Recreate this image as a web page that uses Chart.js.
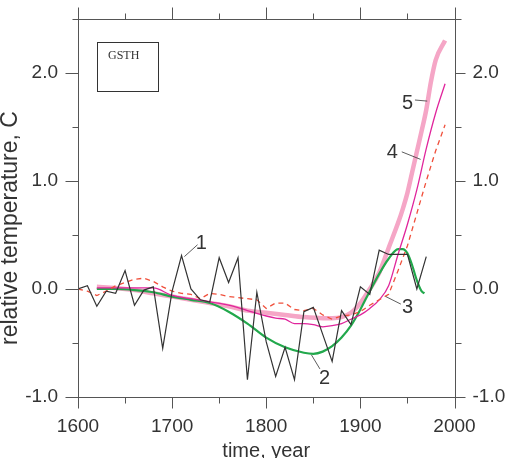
<!DOCTYPE html>
<html>
<head>
<meta charset="utf-8">
<script src="https://cdn.jsdelivr.net/npm/chart.js@4.4.1/dist/chart.umd.min.js"></script>
<style>
  html, body { margin: 0; padding: 0; background: #fff; }
  #wrap { width: 508px; height: 458px; }
</style>
</head>
<body>
<div id="wrap"><canvas id="grafica" width="508" height="458"></canvas></div>
<script>
/* ============ DATOS ============ */
// 1 - serie anual (negra)
const anos1 = [1600,1610,1620,1630,1640,1650,1660,1670,1680,1690,1700,1710,1720,1730,1740,1750,1760,1770,1780,1790,
               1800,1810,1820,1830,1840,1850,1860,1870,1880,1890,1900,1910,1920,1930,1940,1950,1960,1970];
const temp1 = [0.0,0.03,-0.16,-0.02,-0.04,0.17,-0.15,-0.01,0.02,-0.55,-0.02,0.31,0.0,-0.1,-0.12,0.29,0.06,0.29,-0.84,-0.03,
               -0.49,-0.81,-0.54,-0.84,-0.21,-0.17,-0.42,-0.67,-0.2,-0.33,0.02,-0.05,0.36,0.32,0.32,0.32,0.0,0.3];

// 2 - verde
const anos2 = [1620,1640,1660,1680,1700,1720,1740,1760,1780,1800,1820,1840,1850,1860,1870,1880,1890,1900,1910,1920,1930,1940,1945,1950,1955,1960,1965,1968];
const temp2 = [0.0,0.0,-0.01,-0.03,-0.07,-0.1,-0.13,-0.21,-0.32,-0.45,-0.54,-0.59,-0.6,-0.58,-0.53,-0.45,-0.34,-0.19,-0.02,0.14,0.28,0.37,0.37,0.33,0.22,0.08,-0.02,-0.04];

// 3 - roja discontinua
const anos3 = [1600,1610,1620,1630,1640,1650,1660,1670,1680,1690,1700,1710,1720,1730,1740,1750,1760,1770,1780,1790,
               1800,1810,1820,1830,1840,1850,1860,1870,1880,1890,1900,1910,1920,1930,1940,1950,1960,1970,1980,1990];
const temp3 = [0.0,-0.02,-0.06,-0.02,0.03,0.06,0.09,0.1,0.07,0.02,-0.02,-0.04,-0.05,-0.09,-0.04,-0.05,-0.07,-0.08,-0.09,-0.1,
               -0.18,-0.13,-0.13,-0.19,-0.2,-0.18,-0.24,-0.28,-0.25,-0.24,-0.21,-0.15,-0.1,-0.05,0.17,0.4,0.7,1.0,1.28,1.52];

// 4 - magenta
const anos4 = [1620,1640,1660,1680,1700,1720,1740,1760,1780,1800,1810,1820,1830,1840,1850,1860,1870,1880,1890,1900,1910,1920,1930,1940,1950,1960,1970,1980,1990];
const temp4 = [0.01,0.01,0.01,0.01,-0.06,-0.09,-0.12,-0.15,-0.2,-0.25,-0.27,-0.28,-0.32,-0.32,-0.33,-0.35,-0.34,-0.32,-0.28,-0.24,-0.18,-0.1,0.03,0.32,0.6,0.92,1.3,1.63,1.9];

// 5 - rosa gruesa
const anos5 = [1620,1640,1660,1680,1700,1720,1740,1760,1780,1800,1820,1840,1860,1870,1880,1890,1900,1910,1920,1930,1940,1945,1950,1955,1960,1965,1970,1975,1980,1990];
const temp5 = [0.02,0.01,-0.01,-0.04,-0.07,-0.1,-0.13,-0.16,-0.2,-0.22,-0.24,-0.26,-0.27,-0.27,-0.26,-0.22,-0.13,0.0,0.15,0.38,0.61,0.74,0.89,1.08,1.27,1.46,1.66,1.92,2.12,2.3];

// ejes
const xMin = 1600, xMax = 2000, xPaso = 50;
const yMin = -1, yMax = 2.5, yPaso = 0.5;

// etiquetas numeradas (texto, posicion y linea guia en unidades de datos)
const etiquetas = [
  { texto: "1", x: 1731, y: 0.42, de: [1727, 0.41], a: [1713, 0.30] },
  { texto: "2", x: 1862, y: -0.83, de: [1857, -0.74], a: [1848, -0.61] },
  { texto: "3", x: 1950, y: -0.17, de: [1943, -0.14], a: [1927, -0.07] },
  { texto: "4", x: 1934, y: 1.26, de: [1944, 1.27], a: [1964, 1.20] },
  { texto: "5", x: 1950, y: 1.72, de: [1958, 1.75], a: [1971, 1.74] }
];

const juntar = (xs, ys) => xs.map((x, i) => ({ x: x, y: ys[i] }));

/* ============ PLUGIN: MARCO, MARCAS Y TEXTOS ============ */
const marcoPlugin = {
  id: "marco",
  afterDatasetsDraw(chart) {
    const { ctx, chartArea: a, scales } = chart;
    const px = v => Math.round(scales.x.getPixelForValue(v)) + 0.5;
    const py = v => Math.round(scales.y.getPixelForValue(v)) + 0.5;
    const L = Math.round(a.left) + 0.5, R = Math.round(a.right) + 0.5;
    const T = Math.round(a.top) + 0.5, B = Math.round(a.bottom) + 0.5;

    ctx.save();
    ctx.strokeStyle = "#555";
    ctx.lineWidth = 1;
    ctx.strokeRect(L, T, R - L, B - T);

    ctx.beginPath();
    scales.x.ticks.forEach(t => {
      const mayor = t.value % 100 === 0;
      const x = px(t.value);
      ctx.moveTo(x, B); ctx.lineTo(x, B + (mayor ? 11 : 6));
      ctx.moveTo(x, T); ctx.lineTo(x, T - (mayor ? 12 : 6));
    });
    scales.y.ticks.forEach(t => {
      const mayor = Math.abs(t.value % 1) < 1e-6;
      const y = py(t.value);
      ctx.moveTo(L, y); ctx.lineTo(L - (mayor ? 13 : 6), y);
      ctx.moveTo(R, y); ctx.lineTo(R + (mayor ? 10 : 6), y);
    });
    ctx.stroke();

    // caja GSTH
    ctx.strokeStyle = "#333";
    ctx.strokeRect(97.5, 42.5, 61, 49);
    ctx.fillStyle = "#333";
    ctx.font = "12px 'Liberation Serif', serif";
    ctx.textAlign = "left";
    ctx.textBaseline = "middle";
    ctx.fillText("GSTH", 108, 56);

    // etiquetas 1..5
    ctx.strokeStyle = "#333";
    ctx.lineWidth = 0.8;
    ctx.font = "20px 'Liberation Sans', Arial, sans-serif";
    ctx.textAlign = "center";
    etiquetas.forEach(e => {
      ctx.beginPath();
      ctx.moveTo(scales.x.getPixelForValue(e.de[0]), scales.y.getPixelForValue(e.de[1]));
      ctx.lineTo(scales.x.getPixelForValue(e.a[0]), scales.y.getPixelForValue(e.a[1]));
      ctx.stroke();
      ctx.fillText(e.texto, scales.x.getPixelForValue(e.x), scales.y.getPixelForValue(e.y));
    });

    // titulos de ejes
    ctx.font = "20px 'Liberation Sans', Arial, sans-serif";
    ctx.fillText("time, year", (a.left + a.right) / 2, 451);
    ctx.save();
    ctx.translate(11, 228);
    ctx.rotate(-Math.PI / 2);
    ctx.font = "23px 'Liberation Sans', Arial, sans-serif";
    ctx.fillText("relative temperature, C", 0, 0);
    ctx.restore();

    ctx.restore();
  }
};

/* ============ GRAFICA ============ */
const fuenteTicks = { family: "'Liberation Sans', Arial, sans-serif", size: 19 };
const etiquetaY = v => (Math.abs(v % 1) < 1e-6 ? v.toFixed(1) : "");
const sinPaddingV = s => { s.paddingTop = 0; s.paddingBottom = 0; };
const sinPaddingH = s => { s.paddingLeft = 0; s.paddingRight = 0; };

new Chart(document.getElementById("grafica"), {
  type: "line",
  data: {
    datasets: [
      { label: "1", data: juntar(anos1, temp1), borderColor: "#333333", borderWidth: 1.2, tension: 0 },
      { label: "3", data: juntar(anos3, temp3), borderColor: "#f0503c", borderWidth: 1.3, borderDash: [5, 4], tension: 0 },
      { label: "4", data: juntar(anos4, temp4), borderColor: "#e0259c", borderWidth: 1.3, cubicInterpolationMode: "monotone" },
      { label: "2", data: juntar(anos2, temp2), borderColor: "#22a84c", borderWidth: 2.2, cubicInterpolationMode: "monotone" },
      { label: "5", data: juntar(anos5, temp5), borderColor: "#f5a6c6", borderWidth: 4.5, cubicInterpolationMode: "monotone" }
    ]
  },
  options: {
    responsive: false,
    animation: false,
    devicePixelRatio: 1,
    layout: { padding: 0 },
    elements: { point: { radius: 0 } },
    plugins: { legend: { display: false }, tooltip: { enabled: false } },
    scales: {
      x: {
        type: "linear", position: "bottom", min: xMin, max: xMax,
        grid: { display: false, drawTicks: false }, border: { display: false },
        ticks: { stepSize: xPaso, color: "#333", font: fuenteTicks, padding: 18,
                 maxRotation: 0, autoSkip: false,
                 callback: v => (v % 100 === 0 ? String(v) : "") },
        afterFit: s => { s.height = 61; sinPaddingH(s); }
      },
      xTop: {
        type: "linear", position: "top", min: xMin, max: xMax,
        grid: { display: false, drawTicks: false }, border: { display: false },
        ticks: { display: false },
        afterFit: s => { s.height = 19; sinPaddingH(s); }
      },
      y: {
        type: "linear", position: "left", min: yMin, max: yMax,
        grid: { display: false, drawTicks: false }, border: { display: false },
        ticks: { stepSize: yPaso, color: "#333", font: fuenteTicks, padding: 20, autoSkip: false, callback: etiquetaY },
        afterFit: s => { s.width = 78; sinPaddingV(s); }
      },
      yRight: {
        type: "linear", position: "right", min: yMin, max: yMax,
        grid: { display: false, drawTicks: false }, border: { display: false },
        ticks: { stepSize: yPaso, color: "#333", font: fuenteTicks, padding: 18, autoSkip: false, callback: etiquetaY },
        afterFit: s => { s.width = 53.5; sinPaddingV(s); }
      }
    }
  },
  plugins: [marcoPlugin]
});
</script>
</body>
</html>
